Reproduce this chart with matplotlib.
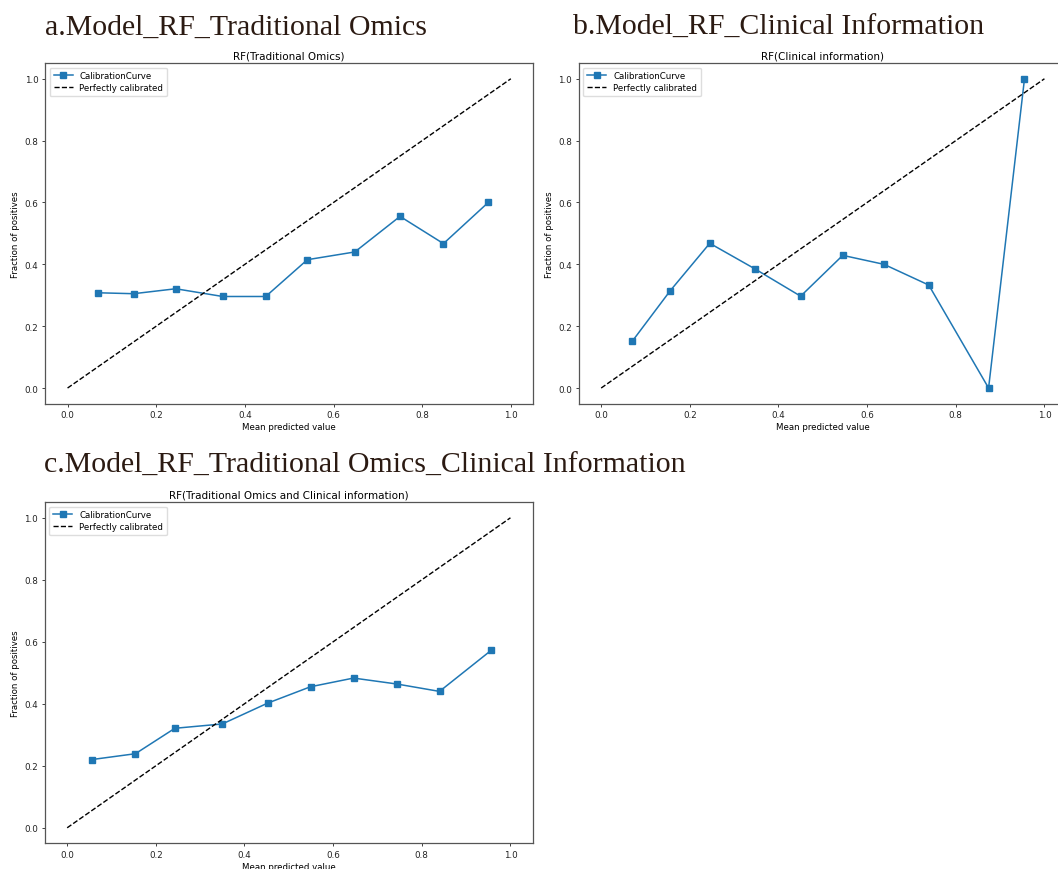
import matplotlib
matplotlib.use("Agg")
import matplotlib.pyplot as plt

# Calibration results (mean predicted value, fraction of positives) per model
omics_pred = [0.069, 0.149, 0.244, 0.350, 0.447, 0.541, 0.648, 0.750, 0.848, 0.949]
omics_frac = [0.308, 0.305, 0.321, 0.296, 0.296, 0.415, 0.440, 0.555, 0.467, 0.600]

clin_pred = [0.070, 0.156, 0.245, 0.346, 0.450, 0.545, 0.638, 0.739, 0.874, 0.955]
clin_frac = [0.151, 0.315, 0.468, 0.386, 0.297, 0.429, 0.400, 0.333, 0.000, 1.000]

comb_pred = [0.055, 0.154, 0.243, 0.350, 0.452, 0.549, 0.646, 0.743, 0.840, 0.957]
comb_frac = [0.220, 0.239, 0.321, 0.335, 0.402, 0.455, 0.483, 0.464, 0.440, 0.573]

panel_titles = ["a.Model_RF_Traditional Omics",
                "b.Model_RF_Clinical Information",
                "c.Model_RF_Traditional Omics_Clinical Information"]
axes_titles = ["RF(Traditional Omics)",
               "RF(Clinical information)",
               "RF(Traditional Omics and Clinical information)"]
ticks = [0.0, 0.2, 0.4, 0.6, 0.8, 1.0]

W, H = 1058, 870
fig = plt.figure(figsize=(W / 100, H / 100), dpi=100)

positions = [
    [45.4 / W, 1 - 404.5 / H, 487.6 / W, 340.2 / H],
    [579.0 / W, 1 - 404.5 / H, 487.6 / W, 340.2 / H],
    [45.0 / W, 1 - 844.3 / H, 487.6 / W, 341.0 / H],
]
series = [(omics_pred, omics_frac), (clin_pred, clin_frac), (comb_pred, comb_frac)]
title_pos = [(45 / W, 1 - 35 / H), (573 / W, 1 - 35 / H), (44 / W, 1 - 473 / H)]

title_color = "#2b1a12"
spine_color = "#555555"

for pos, (px, fy), atitle, ptitle, tpos in zip(positions, series, axes_titles,
                                                 panel_titles, title_pos):
    ax = fig.add_axes(pos)
    ax.plot(px, fy, "s-", color="#1f77b4", lw=1.1, markersize=5,
            label="CalibrationCurve")
    ax.plot([0, 1], [0, 1], "k--", lw=1.0, label="Perfectly calibrated")
    ax.set_xlim(-0.05, 1.05)
    ax.set_ylim(-0.05, 1.05)
    ax.set_xticks(ticks)
    ax.set_yticks(ticks)
    ax.set_xticklabels([f"{t:.1f}" for t in ticks])
    ax.set_yticklabels([f"{t:.1f}" for t in ticks])
    ax.tick_params(labelsize=6.3, length=2.5, width=0.6, pad=2.5,
                   colors="#222222")
    for s in ax.spines.values():
        s.set_color(spine_color)
        s.set_linewidth(0.9)
    ax.set_title(atitle, fontsize=7.5, pad=3.5)
    ax.set_xlabel("Mean predicted value", fontsize=6.2, labelpad=2)
    ax.set_ylabel("Fraction of positives", fontsize=6.2, labelpad=3)
    ax.legend(loc="upper left", fontsize=6.2, handlelength=2.2,
              borderpad=0.45, labelspacing=0.35, framealpha=1,
              edgecolor="#dddddd", fancybox=True)
    fig.text(tpos[0], tpos[1], ptitle, fontsize=21.5, va="baseline",
             ha="left", color=title_color, family="Liberation Serif")

fig.savefig("out.png", dpi=100)
